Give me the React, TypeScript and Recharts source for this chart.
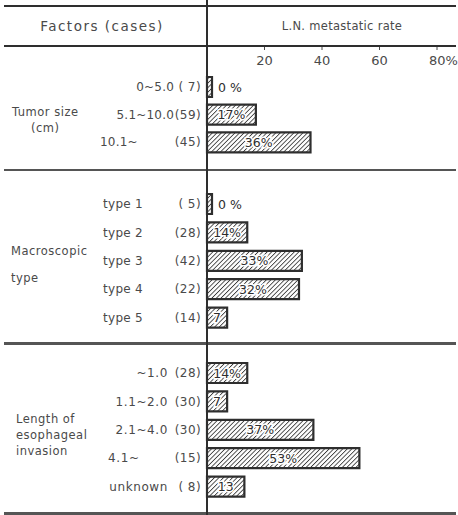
import React from "react";
import { BarChart, Bar, XAxis, YAxis, LabelList } from "recharts";

// ---- data ----
const tumorRanges = ["0~5.0", "5.1~10.0", "10.1~"];
const tumorCases = ["( 7)", "(59)", "(45)"];
const tumorRates = [0, 17, 36];
const tumorLabels = ["0 %", "17%", "36%"];

const typeRanges = ["type 1", "type 2", "type 3", "type 4", "type 5"];
const typeCases = ["( 5)", "(28)", "(42)", "(22)", "(14)"];
const typeRates = [0, 14, 33, 32, 7];
const typeLabels = ["0 %", "14%", "33%", "32%", "7"];

const lengthRanges = ["~1.0", "1.1~2.0", "2.1~4.0", "4.1~", "unknown"];
const lengthCases = ["(28)", "(30)", "(30)", "(15)", "( 8)"];
const lengthRates = [14, 7, 37, 53, 13];
const lengthLabels = ["14%", "7", "37%", "53%", "13"];

const xTicks = [20, 40, 60, 80];
const groupTitles = [["Tumor size", "(cm)"], ["Macroscopic", "type"], ["Length of", "esophageal", "invasion"]];

const build = (ranges: string[], cases: string[], rates: number[], labels: string[]) =>
  ranges.map((r, i) => ({ range: r, cases: cases[i], rate: rates[i], label: labels[i] }));

const FONT = "'DejaVu Sans', sans-serif";
const TEXT = "#4a4a4a";
const DARK = "#2e2e2e";

type SectionCfg = {
  endX: number;
  openStartX: number;
  allStart: boolean;
  spacing: number;
};

const makeTick = (data: any[], cfg: SectionCfg) => (props: any) => {
  const { y, payload } = props;
  const d = data[payload.index];
  const open = d.range.endsWith("~");
  let tx = cfg.endX;
  let anchor: any = "end";
  if (cfg.allStart || open) {
    tx = cfg.openStartX;
    anchor = "start";
  }
  return (
    <g>
      <text x={tx} y={y} textAnchor={anchor} dominantBaseline="central" fontSize={12} letterSpacing={cfg.spacing} fill={TEXT} fontFamily={FONT}>
        {d.range}
      </text>
      <text x={201} y={y} textAnchor="end" dominantBaseline="central" fontSize={12} letterSpacing={0.4} fill={TEXT} fontFamily={FONT}>
        {d.cases}
      </text>
    </g>
  );
};

const makeLabel = (data: any[]) => (props: any) => {
  const { x, y, width, height, index } = props;
  const d = data[index];
  const zero = d.rate === 0;
  const tx = zero ? x + width + 6 : x + width / 2;
  return (
    <text
      x={tx}
      y={y + height / 2}
      textAnchor={zero ? "start" : "middle"}
      dominantBaseline="central"
      fontSize={12.5}
      fontFamily={FONT}
      fill={DARK}
      stroke={zero ? "none" : "#fff"}
      strokeWidth={3}
      style={{ paintOrder: "stroke" } as any}
    >
      {d.label}
    </text>
  );
};

const XTick = (props: any) => {
  const { x, payload } = props;
  const v = payload.value;
  return (
    <g>
      <line x1={x} x2={x} y1={1} y2={4} stroke={TEXT} strokeWidth={1} />
      <text x={v === 80 ? x - 8 : x} y={14} textAnchor={v === 80 ? "start" : "middle"} dominantBaseline="central" fontSize={13} fill={TEXT} fontFamily={FONT}>
        {v === 80 ? "80%" : String(v)}
      </text>
    </g>
  );
};

const Hatch = ({ id }: { id: string }) => (
  <defs>
    <pattern id={id} width={3.2} height={3.2} patternUnits="userSpaceOnUse" patternTransform="rotate(45)">
      <rect width={3.2} height={3.2} fill="#fff" />
      <line x1={0} y1={0} x2={0} y2={3.2} stroke="#3a3a3a" strokeWidth={1.7} />
    </pattern>
  </defs>
);

const Section = ({
  data, cfg, top, height, margin, showAxis, pid,
}: { data: any[]; cfg: SectionCfg; top: number; height: number; margin: any; showAxis: boolean; pid: string }) => (
  <div style={{ position: "absolute", left: 0, top, width: 458, height }}>
    <BarChart width={458} height={height} data={data} layout="vertical" margin={margin} barCategoryGap={0}>
      <Hatch id={pid} />
      <XAxis
        type="number"
        domain={[0, 80]}
        ticks={xTicks}
        orientation="top"
        hide={!showAxis}
        height={27}
        axisLine={false}
        tickLine={false}
        tick={<XTick />}
        interval={0}
      />
      <YAxis type="category" dataKey="range" width={207} axisLine={false} tickLine={false} tick={makeTick(data, cfg)} interval={0} />
      <Bar dataKey="rate" barSize={20} fill={`url(#${pid})`} stroke={DARK} strokeWidth={2.2} minPointSize={5} isAnimationActive={false}>
        <LabelList dataKey="rate" content={makeLabel(data)} />
      </Bar>
    </BarChart>
  </div>
);

const hLine = (y: number, h: number, color = DARK) => (
  <div style={{ position: "absolute", left: 4, top: y, width: 452, height: h, background: color }} />
);

const GroupTitle = ({ lines, top, left, lh, center }: { lines: string[]; top: number; left: number; lh: number; center?: boolean }) => (
  <div style={{ position: "absolute", left, top, fontFamily: FONT, fontSize: 11.5, letterSpacing: 0.5, color: TEXT, lineHeight: `${lh}px`, textAlign: center ? "center" : "left" }}>
    {lines.map((l, i) => (
      <div key={i}>{l}</div>
    ))}
  </div>
);

export default function App() {
  const tumor = build(tumorRanges, tumorCases, tumorRates, tumorLabels);
  const types = build(typeRanges, typeCases, typeRates, typeLabels);
  const lengths = build(lengthRanges, lengthCases, lengthRates, lengthLabels);
  return (
    <div style={{ position: "absolute", left: 0, top: 0, width: 458, height: 515, background: "#fff", overflow: "hidden" }}>
      {hLine(5, 2)}
      {hLine(45, 2)}
      {hLine(169, 2, "#555")}
      {hLine(342, 2.5, "#555")}
      {hLine(512, 2.5, "#555")}
      <div style={{ position: "absolute", left: 206, top: 0, width: 1.6, height: 515, background: DARK }} />
      <div style={{ position: "absolute", left: 0, top: 18, width: 204, textAlign: "center", fontFamily: FONT, fontSize: 13.5, letterSpacing: 1.5, color: TEXT }}>
        Factors (cases)
      </div>
      <div style={{ position: "absolute", left: 226, top: 19, width: 232, textAlign: "center", fontFamily: FONT, fontSize: 11.5, letterSpacing: 0.3, color: TEXT }}>
        L.N. metastatic rate
      </div>
      <Section data={tumor} cfg={{ endX: 174, openStartX: 100, allStart: false, spacing: 0.2 }} top={46} height={124} margin={{ top: 0, right: 21, bottom: 14, left: 0 }} showAxis={true} pid="hatch1" />
      <Section data={types} cfg={{ endX: 170, openStartX: 103, allStart: true, spacing: 0.3 }} top={170} height={173} margin={{ top: 20, right: 21, bottom: 11, left: 0 }} showAxis={false} pid="hatch2" />
      <Section data={lengths} cfg={{ endX: 168, openStartX: 108, allStart: false, spacing: 0.6 }} top={343} height={170} margin={{ top: 16, right: 21, bottom: 12, left: 0 }} showAxis={false} pid="hatch3" />
      <GroupTitle lines={groupTitles[0]} top={104} left={12} lh={16} center />
      <GroupTitle lines={groupTitles[1]} top={238} left={11} lh={27} />
      <GroupTitle lines={groupTitles[2]} top={411} left={16} lh={16} />
    </div>
  );
}
